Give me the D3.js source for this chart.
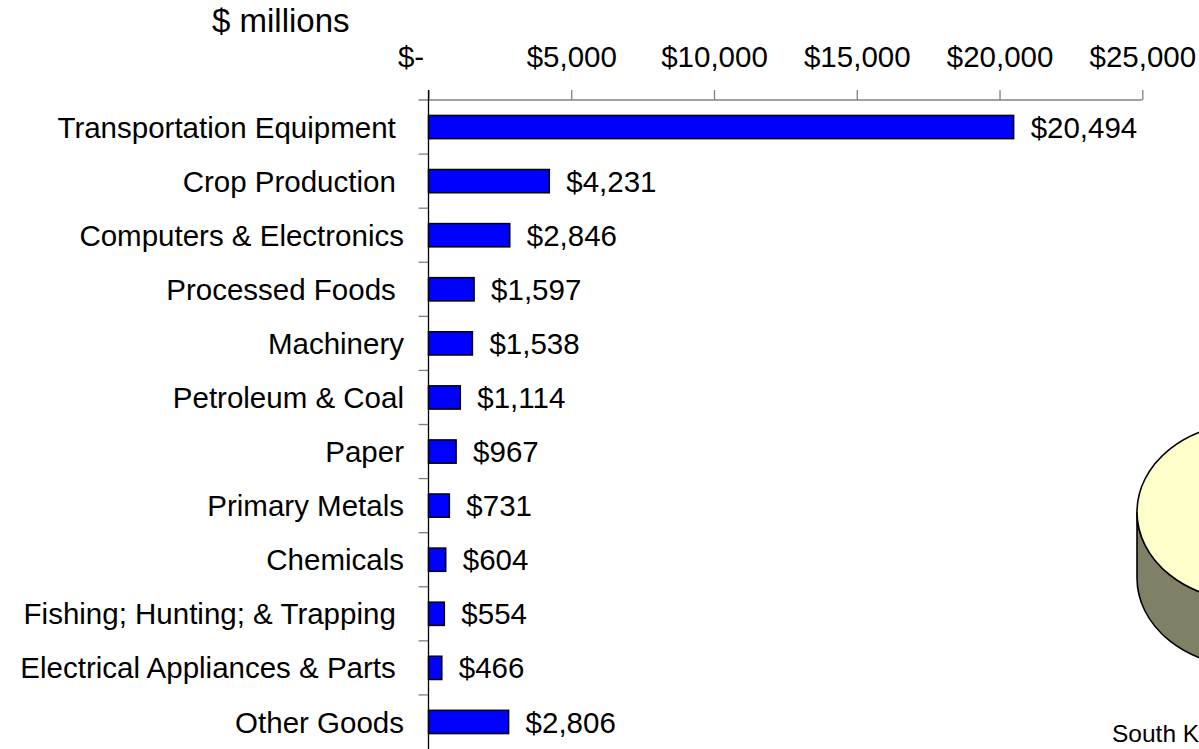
<!DOCTYPE html>
<html>
<head>
<meta charset="utf-8">
<script src="https://cdn.jsdelivr.net/npm/d3@7"></script>
<style>
  html, body { margin: 0; padding: 0; background: #fff; overflow: hidden; }
  svg { display: block; font-family: "Liberation Sans", Arial, sans-serif; }
  text { white-space: pre; }
</style>
</head>
<body>
<svg id="chart" width="1199" height="749"></svg>
<script>
// ---- data ----
const categories = [
  "Transportation Equipment ",
  "Crop Production ",
  "Computers & Electronics",
  "Processed Foods ",
  "Machinery",
  "Petroleum & Coal",
  "Paper",
  "Primary Metals",
  "Chemicals",
  "Fishing; Hunting; & Trapping ",
  "Electrical Appliances & Parts ",
  "Other Goods"
];
const values = [20494, 4231, 2846, 1597, 1538, 1114, 967, 731, 604, 554, 466, 2806];
const tickValues = [0, 5000, 10000, 15000, 20000, 25000];
const axisTitle = "$ millions";
// partially visible pie at the right edge (only its left slice is in view)
const pieLabels = ["South Korea"];
const pieValues = [1];

// ---- layout ----
const svg = d3.select("#chart");
const x0 = 428.5, x1 = 1142.3, yTop = 100, yBot = 749;

const x = d3.scaleLinear().domain([0, 25000]).range([x0, x1]);
const y = d3.scaleBand().domain(categories).range([yTop, yBot])
  .paddingInner(0.57).paddingOuter(0.285);

const fmtMoney = v => v === 0 ? "$-" : "$" + d3.format(",")(v);

// axis title
svg.append("text")
  .attr("x", 212).attr("y", 32)
  .attr("font-size", 33).attr("fill", "#000")
  .text(axisTitle);

// top x axis
const xAxis = d3.axisTop(x).tickValues(tickValues).tickFormat(fmtMoney)
  .tickSizeInner(10).tickSizeOuter(0).tickPadding(23);
const gx = svg.append("g").attr("transform", `translate(0,${yTop})`).call(xAxis);
gx.select(".domain").remove();
gx.selectAll(".tick line").attr("stroke", "#808080").attr("stroke-width", 1.3);
gx.selectAll(".tick text")
  .attr("font-size", 29.5).attr("fill", "#000")
  .attr("font-family", "Liberation Sans, Arial, sans-serif")
  .attr("dx", d => d === 0 ? -18 : 0);

// horizontal axis line (extends left as the top category tick)
svg.append("line")
  .attr("x1", x0 - 10).attr("x2", x1)
  .attr("y1", yTop).attr("y2", yTop)
  .attr("stroke", "#808080").attr("stroke-width", 1.3);

// category tick marks (band boundaries)
const step = y.step();
svg.append("g").selectAll("line")
  .data(categories.slice(1))
  .join("line")
  .attr("x1", x0 - 10).attr("x2", x0)
  .attr("y1", (d, i) => yTop + (i + 1) * step)
  .attr("y2", (d, i) => yTop + (i + 1) * step)
  .attr("stroke", "#808080").attr("stroke-width", 1.3);

// bars
svg.append("g").selectAll("rect")
  .data(values)
  .join("rect")
  .attr("x", x(0))
  .attr("y", (d, i) => y(categories[i]))
  .attr("width", d => x(d) - x(0))
  .attr("height", y.bandwidth())
  .attr("fill", "#0000FF")
  .attr("stroke", "#000")
  .attr("stroke-width", 1.5);

// vertical axis line
svg.append("line")
  .attr("x1", x0).attr("x2", x0)
  .attr("y1", yTop - 10).attr("y2", yBot)
  .attr("stroke", "#000").attr("stroke-width", 1.3);

// category labels
svg.append("g").selectAll("text")
  .data(categories)
  .join("text")
  .attr("x", 404)
  .attr("y", d => y(d) + y.bandwidth() / 2)
  .attr("dy", "0.36em")
  .attr("text-anchor", "end")
  .attr("font-size", 29.5)
  .attr("fill", "#000")
  .text(d => d);

// value labels
svg.append("g").selectAll("text")
  .data(values)
  .join("text")
  .attr("x", d => x(d) + 17)
  .attr("y", (d, i) => y(categories[i]) + y.bandwidth() / 2)
  .attr("dy", "0.36em")
  .attr("font-size", 29.5)
  .attr("fill", "#000")
  .text(d => fmtMoney(d));

// ---- 3D pie, cut off at the right edge ----
const rx = 112, ry = 89, depth = 66;
const pcx = 1137 + rx, pcy = 512;
const pieG = svg.append("g");
// side wall
pieG.append("path")
  .attr("d", `M${pcx - rx},${pcy} L${pcx - rx},${pcy + depth} A${rx},${ry} 0 0 0 ${pcx + rx},${pcy + depth} L${pcx + rx},${pcy} A${rx},${ry} 0 0 1 ${pcx - rx},${pcy} Z`)
  .attr("fill", "#808066")
  .attr("stroke", "#000").attr("stroke-width", 1.6);
// top face, built with d3.pie / d3.arc and squashed vertically
const arcs = d3.pie().sort(null)(pieValues);
const arc = d3.arc().innerRadius(0).outerRadius(rx);
pieG.append("g")
  .attr("transform", `translate(${pcx},${pcy}) scale(1,${ry / rx})`)
  .selectAll("path")
  .data(arcs)
  .join("path")
  .attr("d", arc)
  .attr("fill", "#FFFFCC")
  .attr("stroke", "#000").attr("stroke-width", 1.6)
  .attr("vector-effect", "non-scaling-stroke");
// pie label
svg.append("text")
  .attr("x", 1112).attr("y", 742)
  .attr("font-size", 24.5).attr("fill", "#000")
  .text(pieLabels[0]);
</script>
</body>
</html>
